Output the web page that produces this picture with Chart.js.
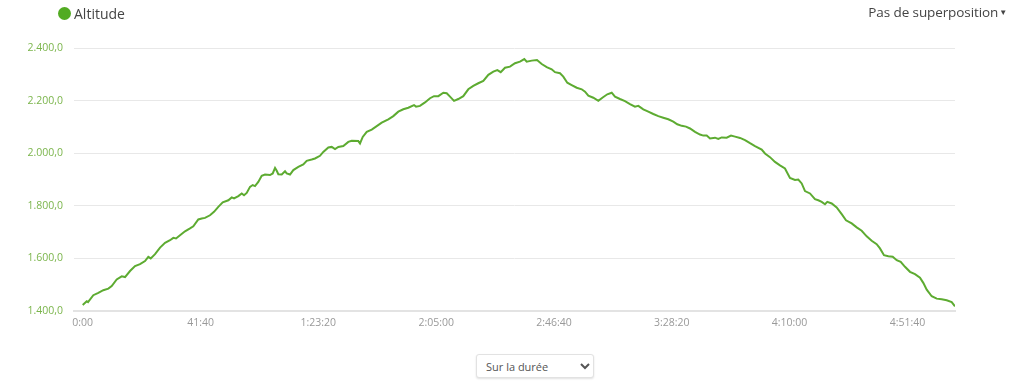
<!DOCTYPE html>
<html>
<head>
<meta charset="utf-8">
<script src="https://cdn.jsdelivr.net/npm/chart.js@4/dist/chart.umd.min.js"></script>
<style>
  html, body { margin: 0; padding: 0; background: #fff; }
  body { width: 1024px; height: 389px; position: relative; overflow: hidden; font-family: "Open Sans", sans-serif; }
  .legend { position: absolute; left: 58px; top: 4px; font-size: 14px; color: #444; display: flex; align-items: center; }
  .legend .dot { width: 13px; height: 13px; border-radius: 50%; background: #52ab22; margin-right: 3px; }
  .overlay { position: absolute; right: 17px; top: 3px; font-size: 13.5px; color: #444; letter-spacing: -0.1px; }
  .overlay .caret { font-size: 8px; margin-left: 1px; vertical-align: 2px; }
  .chart-wrap { position: absolute; left: 0; top: 0; width: 1024px; height: 340px; }
  select { position: absolute; left: 476px; top: 354px; width: 118px; height: 24px; font-family: "Open Sans", sans-serif;
           font-size: 11px; color: #555; background: #fff; border: 1px solid #e2e2e2; border-radius: 3px;
           box-shadow: 0 1px 2px rgba(0,0,0,0.12); padding-left: 5px; }
</style>
</head>
<body>
<div class="chart-wrap"><canvas id="altChart"></canvas></div>
<div class="legend"><span class="dot"></span>Altitude</div>
<div class="overlay">Pas de superposition<span class="caret">&#9660;</span></div>
<select><option>Sur la durée</option></select>
<script>
// elapsed time (s) and altitude (m)
const elapsed = [
  0, 85, 112, 225, 331, 437, 543, 615, 721, 828, 898, 1004, 1110, 1216, 1322, 1392, 1443, 1535, 1641, 1747,
  1853, 1923, 1980, 2065, 2171, 2277, 2347, 2453, 2525, 2595, 2701, 2786, 2877, 2971, 3090, 3162, 3211, 3302, 3374, 3423,
  3480, 3550, 3607, 3656, 3726, 3798, 3868, 3975, 4032, 4081, 4117, 4151, 4223, 4293, 4329, 4399, 4469, 4575, 4681, 4753,
  4859, 4929, 5035, 5105, 5212, 5284, 5354, 5424, 5530, 5636, 5708, 5848, 5884, 5942, 6027, 6133, 6239, 6345, 6485, 6591,
  6697, 6803, 6909, 7030, 7073, 7157, 7263, 7370, 7454, 7546, 7652, 7724, 7794, 7879, 7970, 8076, 8182, 8288, 8394, 8501,
  8607, 8713, 8798, 8870, 8961, 9067, 9173, 9279, 9371, 9422, 9528, 9640, 9740, 9846, 9952, 10022, 10128, 10198, 10283, 10376,
  10483, 10589, 10659, 10729, 10835, 10941, 11034, 11132, 11225, 11295, 11401, 11507, 11613, 11719, 11790, 11896, 12002, 12108, 12214, 12320,
  12426, 12532, 12617, 12711, 12802, 12887, 12993, 13099, 13169, 13241, 13311, 13417, 13487, 13559, 13665, 13757, 13842, 13948, 14054, 14160,
  14266, 14408, 14478, 14584, 14690, 14796, 14902, 15008, 15115, 15185, 15257, 15327, 15433, 15539, 15609, 15681, 15751, 15800, 15894, 15999,
  16106, 16197, 16318, 16424, 16530, 16636, 16742, 16848, 16918, 17003, 17095, 17188, 17273, 17358, 17449, 17555, 17661, 17767, 17837, 17910,
  18016, 18122, 18228, 18334, 18440, 18510
];
const altitude = [
  1423, 1437, 1434, 1460, 1469, 1479, 1485, 1495, 1520, 1532, 1529, 1552, 1571, 1578, 1590, 1606, 1600, 1616, 1641, 1659,
  1669, 1678, 1676, 1688, 1703, 1714, 1722, 1748, 1752, 1754, 1764, 1777, 1796, 1813, 1821, 1832, 1828, 1837, 1847, 1840,
  1849, 1872, 1879, 1875, 1891, 1914, 1919, 1917, 1923, 1944, 1933, 1920, 1919, 1931, 1923, 1919, 1936, 1948, 1957, 1971,
  1976, 1980, 1990, 2005, 2022, 2024, 2016, 2024, 2027, 2043, 2047, 2046, 2037, 2062, 2081, 2090, 2103, 2116, 2129, 2141,
  2158, 2167, 2173, 2183, 2177, 2180, 2193, 2209, 2217, 2217, 2230, 2228, 2215, 2199, 2206, 2217, 2243, 2256, 2266, 2275,
  2298, 2310, 2316, 2308, 2325, 2329, 2342, 2348, 2358, 2348, 2352, 2354, 2339, 2327, 2319, 2308, 2304, 2291, 2268, 2259,
  2249, 2243, 2234, 2219, 2211, 2199, 2212, 2224, 2230, 2215, 2206, 2198, 2187, 2177, 2180, 2167, 2158, 2149, 2141, 2135,
  2129, 2120, 2110, 2104, 2101, 2094, 2081, 2071, 2067, 2067, 2056, 2059, 2054, 2060, 2059, 2067, 2063, 2058, 2050, 2038,
  2027, 2014, 1999, 1985, 1967, 1954, 1942, 1906, 1898, 1900, 1885, 1856, 1847, 1825, 1821, 1815, 1806, 1815, 1809, 1794,
  1768, 1745, 1733, 1718, 1705, 1684, 1667, 1654, 1638, 1612, 1608, 1606, 1593, 1587, 1568, 1549, 1540, 1527, 1507, 1481,
  1456, 1447, 1445, 1441, 1434, 1418
];
const timeTicks = [0, 2500, 5000, 7500, 10000, 12500, 15000, 17500];
const altTicks = [1400, 1600, 1800, 2000, 2200, 2400];

const fmtTime = (s) => {
  const h = Math.floor(s / 3600);
  const m = Math.floor((s % 3600) / 60);
  const sec = Math.round(s % 60);
  const pad = (n) => String(n).padStart(2, "0");
  return h > 0 ? `${h}:${pad(m)}:${pad(sec)}` : `${m}:${pad(sec)}`;
};
const fmtAlt = (v) => {
  const int = Math.round(v).toString().replace(/\B(?=(\d{3})+(?!\d))/g, ".");
  return `${int},0`;
};

const ctx = document.getElementById("altChart").getContext("2d");
new Chart(ctx, {
  type: "line",
  data: {
    datasets: [{
      label: "Altitude",
      data: elapsed.map((t, i) => ({ x: t, y: altitude[i] })),
      borderColor: "#5dab31",
      borderWidth: 2,
      pointRadius: 0,
      tension: 0,
      fill: false,
    }],
  },
  options: {
    responsive: true,
    maintainAspectRatio: false,
    animation: false,
    layout: { padding: { top: 48, right: 69, left: 0, bottom: 0 } },
    plugins: { legend: { display: false }, tooltip: { enabled: false } },
    scales: {
      x: {
        type: "linear",
        min: -185,
        max: 18510,
        afterBuildTicks: (scale) => { scale.ticks = timeTicks.map((v) => ({ value: v })); },
        afterFit: (scale) => { scale.height = 29; },
        ticks: {
          color: "#999",
          font: { family: "Open Sans", size: 10.5 },
          padding: 6,
          maxRotation: 0,
          autoSkip: false,
          callback: (v) => fmtTime(v),
        },
        grid: { display: false, drawTicks: false },
        border: { display: true, color: "#e3e3e3", width: 2 },
      },
      y: {
        min: 1400,
        max: 2400,
        afterBuildTicks: (scale) => { scale.ticks = altTicks.map((v) => ({ value: v })); },
        afterFit: (scale) => { scale.width = 74; },
        ticks: {
          color: "#7bb54c",
          font: { family: "Open Sans", size: 10.5 },
          padding: 11,
          callback: (v) => fmtAlt(v),
        },
        grid: { color: "#e8e8e8", lineWidth: 1, drawTicks: false },
        border: { display: false },
      },
    },
  },
});
</script>
</body>
</html>
